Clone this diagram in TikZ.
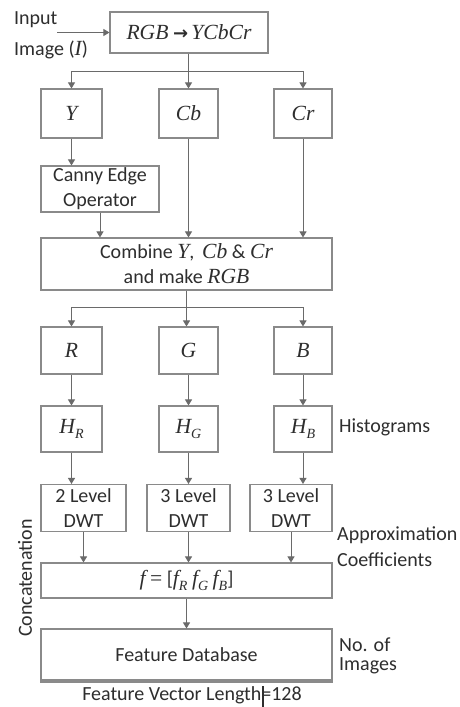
\documentclass[tikz,border=0pt]{standalone}
\usepackage{fontspec}
\setmainfont{Carlito}
\newfontfamily\varfont[Scale=1.08]{Liberation Serif}
\newfontfamily\arrfont{DejaVu Sans}
\usetikzlibrary{arrows.meta}
\definecolor{ink}{HTML}{2E2E2E}
\definecolor{edge}{HTML}{8A8A8A}
\definecolor{wire}{HTML}{6A6A6A}
\newcommand\vr[1]{{\varfont\itshape #1}}
\newcommand\sbs[1]{\raisebox{-0.22em}{\fontsize{13}{13}\selectfont\varfont\itshape #1}}
\tikzset{
  blk/.style={draw=edge, line width=1.1pt, inner sep=0pt, align=center, text=ink,
    font=\fontsize{20}{25}\selectfont},
  lbl/.style={text=ink, inner sep=0pt, align=left, font=\fontsize{20}{25}\selectfont},
  wirel/.style={draw=wire, line width=1pt},
  arr/.style={wirel, -{Triangle[width=7pt,length=6pt]}},
}
\begin{document}
\begin{tikzpicture}[x=1pt,y=-1pt]
\useasboundingbox[fill=white] (0,0) rectangle (460,707);
% boxes
\node[blk, minimum width=158, minimum height=41] (rgb) at (189,32.5) {\vr{RGB} {\arrfont\bfseries\fontsize{18}{18}\selectfont →}\,\vr{YCbCr}};
\node[blk, minimum width=61, minimum height=49] (Y) at (71.5,113.5) {\vr{Y}};
\node[blk, minimum width=59, minimum height=49] (Cb) at (188.5,113.5) {\vr{Cb}};
\node[blk, minimum width=58, minimum height=49] (Cr) at (303,113.5) {\vr{Cr}};
\node[blk, minimum width=118, minimum height=46] (canny) at (100,189) {Canny Edge\\Operator};
\node[blk, minimum width=291, minimum height=52] (comb) at (186.5,264) {Combine \vr{Y},\, \vr{Cb} \& \vr{Cr}\\and make \vr{RGB}};
\node[blk, minimum width=61, minimum height=47] (R) at (71.5,350.5) {\vr{R}};
\node[blk, minimum width=59, minimum height=47] (G) at (188.5,350.5) {\vr{G}};
\node[blk, minimum width=58, minimum height=47] (B) at (303,350.5) {\vr{B}};
\node[blk, minimum width=61, minimum height=46] (HR) at (71.5,429) {\vr{H}\sbs{R}};
\node[blk, minimum width=59, minimum height=46] (HG) at (188.5,429) {\vr{H}\sbs{G}};
\node[blk, minimum width=58, minimum height=46] (HB) at (303,429) {\vr{H}\sbs{B}};
\node[blk, minimum width=85, minimum height=47] (D1) at (83.5,508) {2 Level\\DWT};
\node[blk, minimum width=83, minimum height=47] (D2) at (188.5,508) {3 Level\\DWT};
\node[blk, minimum width=82, minimum height=47] (D3) at (291,508) {3 Level\\DWT};
\node[blk, minimum width=291, minimum height=35] (f) at (186.5,580.5) {\vr{f} {\varfont =} [\vr{f}\sbs{R} \vr{f}\sbs{G} \vr{f}\sbs{B}]};
\node[blk, minimum width=291, minimum height=51] (db) at (186.5,654.5) {Feature Database};
\draw[edge, line width=2.5pt] ([yshift=-1.5]db.south west) -- ([yshift=-1.5]db.south east);
% labels
\node[lbl, anchor=west] (inp) at (14,20) {Input};
\node[lbl, anchor=west] (img) at (14,50) {Image (\vr{I})};
\coordinate (inpend) at (57,32.5);
\node[lbl, anchor=west] (hist) at (339,427) {Histograms};
\node[lbl, anchor=west] (appr) at (337,535) {Approximation};
\node[lbl, anchor=west] (coef) at (337,560) {Coefficients};
\node[lbl, anchor=west] (noof) at (339,645) {No. of};
\node[lbl, anchor=west] (imgs) at (339,666) {Images};
\node[lbl, rotate=90] (conc) at (25,578) {Concatenation};
\node[lbl] (fvl) at (192,695) {Feature Vector Length=128};
\coordinate (cur1) at (263,686);
\coordinate (cur2) at (263,707);
\draw[ink, line width=1.2pt] (cur1) -- (cur2);
% connectors
\coordinate (j1) at (188.5,71);
\coordinate (j2) at (186.5,307);
\draw[arr] (inpend) -- (rgb.west);
\draw[wirel] (rgb.south -| j1) -- (j1);
\draw[arr] (j1) -| (Y.north);
\draw[arr] (j1) -- (Cb.north);
\draw[arr] (j1) -| (Cr.north);
\draw[arr] (Y.south) -- (Y.south |- canny.north);
\draw[arr] (canny.south) -- (canny.south |- comb.north);
\draw[arr] (Cb.south) -- (Cb.south |- comb.north);
\draw[arr] (Cr.south) -- (Cr.south |- comb.north);
\draw[wirel] (comb.south) -- (j2);
\draw[arr] (j2) -| (R.north);
\draw[arr] (j2) -- (j2 |- G.north);
\draw[arr] (j2) -| (B.north);
\draw[arr] (R) -- (HR);
\draw[arr] (G) -- (HG);
\draw[arr] (B) -- (HB);
\draw[arr] (HR.south) -- (HR.south |- D1.north);
\draw[arr] (HG.south) -- (HG.south |- D2.north);
\draw[arr] (HB.south) -- (HB.south |- D3.north);
\draw[arr] (D1.south) -- (D1.south |- f.north);
\draw[arr] (D2.south) -- (D2.south |- f.north);
\draw[arr] (D3.south) -- (D3.south |- f.north);
\draw[arr] (f.south) -- (f.south |- db.north);
\end{tikzpicture}
\end{document}
